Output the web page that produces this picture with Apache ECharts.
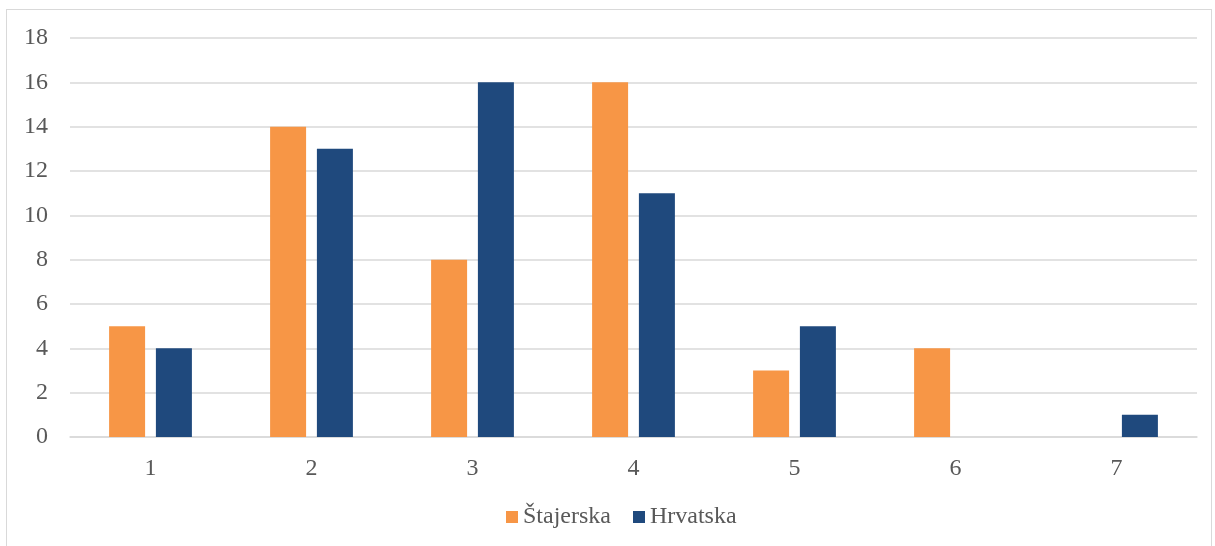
<!DOCTYPE html>
<html><head><meta charset="utf-8">
<script src="https://cdn.jsdelivr.net/npm/echarts@6/dist/echarts.min.js"></script>
<style>html,body{margin:0;padding:0;background:#fff}#frame{position:absolute;left:6px;top:9px;width:1206px;height:545px;border:1.5px solid #d9d9d9;box-sizing:border-box}#c{position:absolute;left:0;top:0;width:1215px;height:546px}</style>
</head><body><div id="frame"></div><div id="c"></div>
<script>
const categories = ['1','2','3','4','5','6','7'];
const stajerska = [5,14,8,16,3,4,0];
const hrvatska = [4,13,16,11,5,0,1];
const yTicks = {min:0, max:18, interval:2};
const chart = echarts.init(document.getElementById('c'));
const font = '"Liberation Serif", "Times New Roman", serif';
chart.setOption({
  animation:false,
  textStyle:{fontFamily:font},
  grid:{left:70, right:18, top:38, bottom:109},
  legend:{bottom:12, left:501, icon:'rect', itemWidth:12, itemHeight:12, itemGap:22,
    textStyle:{fontFamily:font, fontSize:24, color:'#595959'},
    data:['Štajerska','Hrvatska']},
  xAxis:{type:'category', data:categories,
    axisLine:{lineStyle:{color:'#d9d9d9', width:1.5}}, axisTick:{show:false},
    axisLabel:{fontFamily:font, fontSize:24, color:'#595959', margin:20}},
  yAxis:{type:'value', min:yTicks.min, max:yTicks.max, interval:yTicks.interval,
    axisLine:{show:false}, axisTick:{show:false},
    splitLine:{lineStyle:{color:'#d9d9d9', width:1.5}},
    axisLabel:{fontFamily:font, fontSize:24, color:'#595959', margin:22}},
  series:[
    {name:'Štajerska', type:'bar', data:stajerska, barWidth:36, barGap:'30%',
     itemStyle:{color:'#F79646'}},
    {name:'Hrvatska', type:'bar', data:hrvatska, barWidth:36,
     itemStyle:{color:'#1F497D'}}
  ]
});
</script></body></html>
